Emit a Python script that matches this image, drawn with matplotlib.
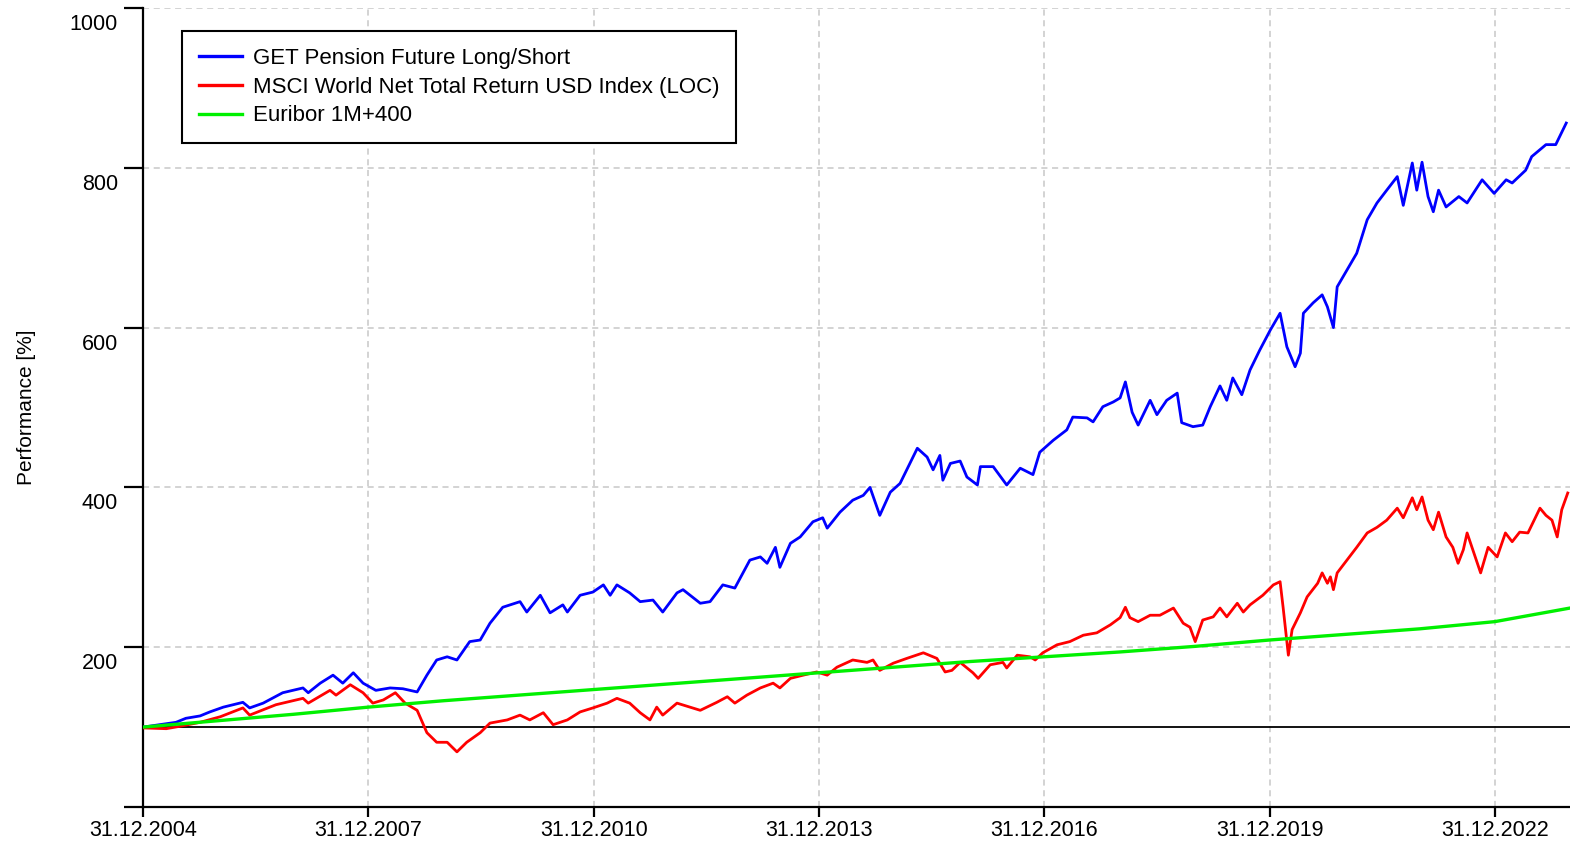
import numpy as np
import matplotlib.pyplot as plt
from matplotlib.transforms import ScaledTranslation

plt.rcParams['font.family'] = ['Liberation Sans', 'DejaVu Sans']

# time axis in decimal years (2005.0 == 31.12.2004), values in %
get_t = [2005.00, 2005.44, 2005.57, 2005.76, 2005.89, 2006.07, 2006.33, 2006.42, 2006.60, 2006.86,
         2007.13, 2007.20, 2007.36, 2007.53, 2007.66, 2007.80, 2007.93, 2008.10, 2008.29, 2008.46,
         2008.65, 2008.78, 2008.91, 2009.05, 2009.18, 2009.35, 2009.49, 2009.62, 2009.79, 2010.02,
         2010.11, 2010.29, 2010.42, 2010.59, 2010.65, 2010.82, 2010.99, 2011.13, 2011.22, 2011.31,
         2011.48, 2011.62, 2011.79, 2011.92, 2012.11, 2012.19, 2012.42, 2012.55, 2012.72, 2012.88,
         2013.08, 2013.22, 2013.31, 2013.42, 2013.48, 2013.62, 2013.75, 2013.92, 2014.05, 2014.11,
         2014.28, 2014.45, 2014.59, 2014.68, 2014.81, 2014.95, 2015.08, 2015.19, 2015.31, 2015.44,
         2015.52, 2015.61, 2015.65, 2015.75, 2015.88, 2015.97, 2016.11, 2016.15, 2016.32, 2016.50,
         2016.68, 2016.85, 2016.94, 2017.12, 2017.30, 2017.38, 2017.57, 2017.65, 2017.78, 2017.92,
         2018.01, 2018.08, 2018.17, 2018.25, 2018.41, 2018.50, 2018.63, 2018.77, 2018.83, 2018.98,
         2019.11, 2019.21, 2019.34, 2019.43, 2019.51, 2019.63, 2019.74, 2019.87, 2020.01, 2020.14,
         2020.23, 2020.34, 2020.41, 2020.45, 2020.58, 2020.70, 2020.77, 2020.85, 2020.90, 2021.03,
         2021.16, 2021.30, 2021.43, 2021.56, 2021.70, 2021.78, 2021.90, 2021.96, 2022.03, 2022.11,
         2022.18, 2022.25, 2022.35, 2022.52, 2022.63, 2022.83, 2022.99, 2023.15, 2023.23, 2023.41,
         2023.49, 2023.68, 2023.81, 2023.95]
get_v = [100, 106, 111, 114, 119, 125, 131, 124, 130, 143,
         149, 143, 155, 165, 155, 168, 155, 146, 149, 148,
         144, 165, 184, 188, 184, 207, 209, 230, 250, 257,
         244, 265, 243, 253, 244, 265, 269, 278, 265, 278,
         268, 257, 259, 244, 268, 272, 255, 257, 278, 274,
         309, 313, 305, 325, 300, 330, 338, 357, 362, 349,
         369, 384, 390, 400, 365, 394, 405, 426, 449, 438,
         422, 440, 409, 430, 433, 413, 403, 426, 426, 403,
         424, 416, 444, 459, 472, 488, 487, 482, 501, 507,
         512, 532, 494, 478, 509, 491, 509, 518, 481, 476,
         478, 501, 527, 509, 537, 516, 547, 572, 597, 618,
         576, 551, 568, 618, 631, 641, 626, 600, 651, 672,
         693, 735, 756, 772, 789, 753, 806, 772, 807, 764,
         745, 772, 751, 764, 756, 785, 768, 785, 781, 797,
         814, 829, 829, 856]

msci_t = [2005.00, 2005.31, 2005.49, 2005.76, 2006.03, 2006.33, 2006.42, 2006.77, 2007.13, 2007.20,
          2007.49, 2007.57, 2007.76, 2007.93, 2008.06, 2008.20, 2008.36, 2008.49, 2008.65, 2008.78,
          2008.91, 2009.05, 2009.18, 2009.31, 2009.49, 2009.62, 2009.85, 2010.02, 2010.15, 2010.33,
          2010.46, 2010.65, 2010.82, 2010.99, 2011.18, 2011.31, 2011.48, 2011.62, 2011.75, 2011.84,
          2011.92, 2012.11, 2012.42, 2012.64, 2012.78, 2012.88, 2013.04, 2013.22, 2013.39, 2013.48,
          2013.62, 2013.79, 2013.97, 2014.11, 2014.24, 2014.45, 2014.64, 2014.72, 2014.81, 2014.99,
          2015.17, 2015.39, 2015.57, 2015.68, 2015.77, 2015.88, 2016.05, 2016.12, 2016.28, 2016.45,
          2016.50, 2016.64, 2016.81, 2016.88, 2016.98, 2017.17, 2017.34, 2017.52, 2017.70, 2017.88,
          2018.01, 2018.08, 2018.14, 2018.25, 2018.41, 2018.54, 2018.72, 2018.85, 2018.94, 2019.01,
          2019.11, 2019.25, 2019.34, 2019.43, 2019.57, 2019.65, 2019.74, 2019.91, 2020.05, 2020.14,
          2020.18, 2020.25, 2020.30, 2020.41, 2020.50, 2020.64, 2020.70, 2020.77, 2020.81, 2020.85,
          2020.90, 2021.03, 2021.16, 2021.30, 2021.43, 2021.56, 2021.70, 2021.78, 2021.90, 2021.96,
          2022.03, 2022.11, 2022.18, 2022.25, 2022.35, 2022.44, 2022.51, 2022.58, 2022.63, 2022.72,
          2022.81, 2022.91, 2023.03, 2023.14, 2023.23, 2023.33, 2023.44, 2023.60, 2023.68, 2023.76,
          2023.83, 2023.89, 2023.97]
msci_v = [99, 98, 101, 106, 113, 124, 115, 128, 136, 130,
          146, 140, 153, 143, 130, 134, 143, 130, 121, 93,
          81, 81, 69, 81, 93, 105, 109, 115, 109, 118,
          103, 109, 119, 124, 130, 136, 130, 118, 109, 125,
          115, 130, 121, 131, 138, 130, 140, 149, 155, 149,
          161, 165, 169, 165, 175, 184, 181, 184, 171, 180,
          186, 193, 186, 169, 171, 181, 168, 161, 178, 181,
          174, 190, 188, 184, 193, 203, 207, 215, 218, 228,
          237, 250, 237, 232, 240, 240, 249, 230, 225, 207,
          234, 238, 249, 238, 255, 244, 253, 265, 278, 282,
          250, 190, 222, 243, 263, 280, 293, 280, 288, 272,
          293, 309, 325, 343, 350, 359, 374, 362, 387, 372,
          388, 359, 347, 369, 338, 325, 305, 322, 343, 318,
          293, 325, 313, 343, 332, 344, 343, 374, 365, 359,
          338, 372, 393]

eur_t = [2005, 2006, 2007, 2008, 2009, 2010, 2011, 2012, 2013, 2014,
         2015, 2016, 2017, 2018, 2019, 2020, 2021, 2022, 2023, 2024]
eur_v = [100, 108, 116, 125, 133, 140, 147, 154, 161, 168,
         175, 182, 188, 194, 201, 209, 216, 223, 232, 249]

xticks = [2005, 2008, 2011, 2014, 2017, 2020, 2023]
xlabels = ['31.12.2004', '31.12.2007', '31.12.2010', '31.12.2013',
           '31.12.2016', '31.12.2019', '31.12.2022']
yticks = [0, 200, 400, 600, 800, 1000]
ylabels = ['', '200', '400', '600', '800', '1000']

fig = plt.figure(figsize=(15.7, 8.42), dpi=100)
ax = fig.add_axes([143/1570, 35/842, 1427/1570, 799/842])

ax.axhline(100, color='black', lw=1.3, zorder=1.5)
ax.plot(get_t, get_v, color='#0000ff', lw=2.0, label='GET Pension Future Long/Short', zorder=3)
ax.plot(msci_t, msci_v, color='#ff0000', lw=2.0, label='MSCI World Net Total Return USD Index (LOC)', zorder=3)
ax.plot(eur_t, eur_v, color='#00f000', lw=2.4, label='Euribor 1M+400', zorder=4)

ax.set_xlim(2005, 2024)
ax.set_ylim(0, 1000)
ax.set_xticks(xticks)
ax.set_xticklabels(xlabels)
ax.set_yticks(yticks)
ax.set_yticklabels(ylabels)

ax.grid(True, color='#c8c8c8', lw=1.1, linestyle=(0, (4, 3)))
ax.set_axisbelow(True)
for s in ['top', 'right']:
    ax.spines[s].set_visible(False)
for s in ['left', 'bottom']:
    ax.spines[s].set_linewidth(1.6)

ax.tick_params(axis='y', length=14, width=1.6, pad=4, labelsize=15.5)
ax.tick_params(axis='x', length=7, width=1.6, pad=2, labelsize=15.5)
off = ScaledTranslation(0, -0.14, fig.dpi_scale_trans)
for lab in ax.get_yticklabels():
    lab.set_transform(lab.get_transform() + off)

ax.set_ylabel('Performance [%]', fontsize=15, labelpad=0)
ax.yaxis.set_label_coords(-0.075, 0.5)

leg = ax.legend(loc='upper left', bbox_to_anchor=(0.0273, 0.971), borderaxespad=0,
                fontsize=16, frameon=True, fancybox=False, framealpha=1,
                handlelength=1.95, handletextpad=0.5, labelspacing=0.35,
                borderpad=0.75)
leg.get_frame().set_edgecolor('black')
leg.get_frame().set_linewidth(1.5)
for h in leg.get_lines():
    h.set_linewidth(2.4)

fig.savefig('out.png', dpi=100)
